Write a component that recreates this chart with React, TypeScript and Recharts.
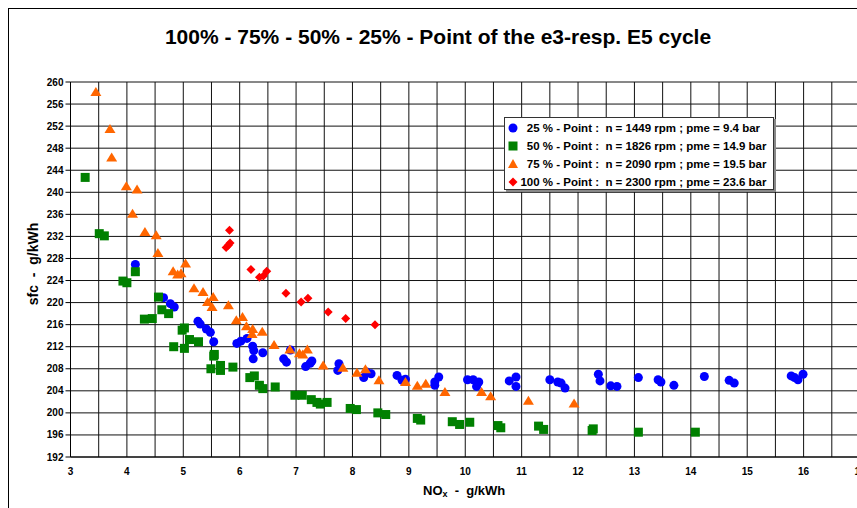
import React from "react";
import { ScatterChart, Scatter, XAxis, YAxis, CartesianGrid } from "recharts";

// NOx [g/kWh], sfc [g/kWh] per operating point
const point25: [number, number][] = [
  [4.15, 226.9], [4.65, 220.9], [4.77, 219.8], [4.84, 219.2], [5.26, 216.6], [5.3, 216.1],
  [5.41, 215.2], [5.48, 214.6], [5.54, 212.9], [5.95, 212.6], [6.02, 213.0], [6.13, 213.5],
  [6.23, 212.1], [6.25, 211.3], [6.24, 209.8], [6.41, 210.9], [6.78, 209.8], [6.83, 209.2],
  [6.9, 211.4], [7.17, 208.4], [7.25, 209.0], [7.28, 209.4], [7.76, 208.9], [7.74, 207.7],
  [8.2, 206.4], [8.25, 207.4], [8.33, 207.1], [8.79, 206.8], [8.88, 205.9], [8.94, 206.1],
  [9.46, 205.6], [9.53, 206.5], [9.46, 205.0], [10.04, 206.0], [10.14, 206.0], [10.24, 205.6],
  [10.2, 204.8], [10.78, 205.8], [10.9, 206.5], [10.9, 204.8], [11.5, 206.0], [11.64, 205.6],
  [11.7, 205.4], [11.77, 204.5], [12.36, 207.0], [12.39, 205.8], [12.58, 204.9], [12.69, 204.8],
  [13.07, 206.4], [13.42, 206.0], [13.47, 205.6], [13.7, 205.0], [14.24, 206.6], [14.68, 205.9],
  [14.77, 205.4], [15.78, 206.7], [15.84, 206.4], [15.9, 206.0], [15.99, 207.0],
];

const point50: [number, number][] = [
  [3.26, 242.7], [3.51, 232.5], [3.6, 232.1], [3.93, 223.9], [4.0, 223.6], [4.15, 225.6],
  [4.56, 221.0], [4.62, 218.7], [4.74, 218.0], [4.31, 217.0], [4.45, 217.1], [5.02, 215.4],
  [4.98, 215.0], [4.83, 212.0], [5.02, 211.7], [5.11, 213.3], [5.27, 212.9], [5.55, 210.6],
  [5.54, 210.3], [5.49, 208.0], [5.66, 208.6], [5.66, 207.7], [5.88, 208.3], [6.18, 206.4],
  [6.26, 206.7], [6.35, 205.0], [6.41, 204.4], [6.63, 204.7], [6.98, 203.2], [7.11, 203.2],
  [7.27, 202.4], [7.37, 201.9], [7.43, 201.6], [7.55, 201.9], [7.96, 200.8], [8.07, 200.6],
  [8.45, 200.0], [8.59, 199.7], [9.15, 199.0], [9.21, 198.7], [9.77, 198.4], [9.9, 197.9],
  [10.08, 198.3], [10.58, 197.7], [10.63, 197.3], [11.3, 197.6], [11.39, 197.0], [12.25, 196.8],
  [12.27, 197.1], [13.07, 196.5], [14.08, 196.5],
];

const point75: [number, number][] = [
  [3.45, 258.2], [3.7, 251.5], [3.73, 246.3], [3.99, 241.1], [4.18, 240.5], [4.1, 236.1],
  [4.32, 232.8], [4.52, 232.2], [4.55, 229.0], [4.82, 225.7], [4.9, 225.1], [4.96, 225.3],
  [5.04, 227.1], [5.19, 222.6], [5.35, 221.9], [5.53, 221.0], [5.43, 220.1], [5.51, 219.2],
  [5.8, 219.5], [5.94, 216.8], [6.05, 217.4], [6.12, 215.7], [6.23, 215.2], [6.22, 214.3],
  [6.4, 214.7], [6.61, 212.3], [6.89, 211.5], [7.06, 210.8], [7.12, 210.6], [7.2, 211.5],
  [7.48, 208.6], [7.83, 208.2], [8.08, 207.3], [8.23, 207.9], [8.47, 205.9], [8.94, 205.6],
  [9.15, 204.9], [9.3, 205.3], [9.64, 203.8], [10.29, 203.8], [10.45, 203.0], [11.12, 202.2],
  [11.93, 201.7],
];

const point100: [number, number][] = [
  [5.82, 233.1], [5.83, 230.8], [5.8, 230.4], [5.76, 230.0], [6.2, 226.0], [6.35, 224.6],
  [6.42, 224.8], [6.48, 225.7], [6.82, 221.7], [7.09, 220.1], [7.21, 220.8], [7.57, 218.3],
  [7.88, 217.1], [8.4, 216.0],
];

const xTicks = [3, 3.5, 4, 4.5, 5, 5.5, 6, 6.5, 7, 7.5, 8, 8.5, 9, 9.5, 10, 10.5, 11, 11.5,
  12, 12.5, 13, 13.5, 14, 14.5, 15, 15.5, 16, 16.5, 17];
const yTicks = [192, 196, 200, 204, 208, 212, 216, 220, 224, 228, 232, 236, 240, 244, 248,
  252, 256, 260];

const legendRows = [
  { load: "25 %", text: "n = 1449 rpm ; pme = 9.4 bar", marker: "circle" },
  { load: "50 %", text: "n = 1826 rpm ; pme = 14.9 bar", marker: "square" },
  { load: "75 %", text: "n = 2090 rpm ; pme = 19.5 bar", marker: "triangle" },
  { load: "100 %", text: "n = 2300 rpm ; pme = 23.6 bar", marker: "diamond" },
];

const FONT = "Arial, 'Liberation Sans', sans-serif";
const toPts = (arr: [number, number][]) => arr.map(([x, y]) => ({ x, y }));

const BLUE = "#0000ff";
const GREEN = "#008000";
const ORANGE = "#ff6600";
const RED = "#ff0000";

const Dot = (p: any) => <circle cx={p.cx} cy={p.cy} r={4.5} fill={BLUE} />;
const Sq = (p: any) => <rect x={p.cx - 4.5} y={p.cy - 4.5} width={9} height={9} fill={GREEN} />;
const Tri = (p: any) => (
  <polygon points={`${p.cx},${p.cy - 5} ${p.cx + 5.5},${p.cy + 4} ${p.cx - 5.5},${p.cy + 4}`} fill={ORANGE} />
);
const Dia = (p: any) => (
  <polygon points={`${p.cx},${p.cy - 4.5} ${p.cx + 4.5},${p.cy} ${p.cx},${p.cy + 4.5} ${p.cx - 4.5},${p.cy}`} fill={RED} />
);

function LegendMarker({ kind }: { kind: string }) {
  return (
    <svg width={12} height={12} style={{ display: "inline-block", verticalAlign: "middle" }}>
      {kind === "circle" && <circle cx={6} cy={6} r={4.5} fill={BLUE} />}
      {kind === "square" && <rect x={1.5} y={1.5} width={9} height={9} fill={GREEN} />}
      {kind === "triangle" && <polygon points="6,1 11,10 1,10" fill={ORANGE} />}
      {kind === "diamond" && <polygon points="6,1.5 10.5,6 6,10.5 1.5,6" fill={RED} />}
    </svg>
  );
}

export default function App() {
  return (
    <div
      style={{
        position: "fixed",
        left: 8,
        top: 8,
        width: 849,
        height: 500,
        overflow: "hidden",
        background: "#fff",
        fontFamily: FONT,
      }}
    >
      <div
        style={{
          position: "absolute",
          left: 0,
          top: 0,
          width: 1000,
          height: 1000,
          borderLeft: "1px solid #000",
          borderTop: "1px solid #000",
          pointerEvents: "none",
        }}
      />
      <div
        style={{
          position: "absolute",
          left: 0,
          width: 860,
          top: 17,
          textAlign: "center",
          fontSize: 21,
          fontWeight: "bold",
          whiteSpace: "nowrap",
        }}
      >
        100% - 75% - 50% - 25% - Point of the e3-resp. E5 cycle
      </div>

      <ScatterChart width={880} height={500} margin={{ top: 74, right: 28, left: 0, bottom: 0 }}>
        <CartesianGrid stroke="#111" strokeWidth={1} fill="#fff" />
        <XAxis
          type="number"
          dataKey="x"
          domain={[3, 17]}
          ticks={xTicks}
          interval={0}
          allowDataOverflow
          tickFormatter={(v: number) => (Number.isInteger(v) ? String(v) : "")}
          tickLine={false}
          tickSize={9}
          tickMargin={2}
          height={51}
          stroke="#000"
          tick={{ fill: "#000", fontSize: 10, fontWeight: "bold", fontFamily: FONT }}
        />
        <YAxis
          type="number"
          dataKey="y"
          domain={[192, 260]}
          ticks={yTicks}
          interval={0}
          allowDataOverflow
          width={62.5}
          tickSize={5}
          tickMargin={2}
          stroke="#000"
          tick={{ fill: "#000", fontSize: 10, fontWeight: "bold", fontFamily: FONT }}
        />
        <Scatter data={toPts(point25)} shape={Dot} isAnimationActive={false} />
        <Scatter data={toPts(point50)} shape={Sq} isAnimationActive={false} />
        <Scatter data={toPts(point75)} shape={Tri} isAnimationActive={false} />
        <Scatter data={toPts(point100)} shape={Dia} isAnimationActive={false} />
      </ScatterChart>

      <div
        style={{
          position: "absolute",
          left: 496,
          top: 109,
          width: 268,
          height: 70,
          background: "#fff",
          border: "1px solid #333",
          boxShadow: "2px 2px 0 #888",
          fontSize: 11.5,
          fontWeight: "bold",
          paddingTop: 1,
        }}
      >
        {legendRows.map((r) => (
          <div key={r.load} style={{ height: 18, display: "flex", alignItems: "center", whiteSpace: "pre" }}>
            <span style={{ width: 13, paddingLeft: 2 }}>
              <LegendMarker kind={r.marker} />
            </span>
            <span style={{ display: "inline-block", width: 33, textAlign: "right" }}>{r.load}</span>
            <span>{" - Point :  " + r.text}</span>
          </div>
        ))}
      </div>

      <div
        style={{
          position: "absolute",
          left: 25,
          top: 264 - 8,
          transform: "translate(-50%, -50%) rotate(-90deg)",
          fontSize: 14,
          fontWeight: "bold",
          whiteSpace: "pre",
        }}
      >
        {"sfc  -  g/kWh"}
      </div>
      <div
        style={{
          position: "absolute",
          left: 415,
          top: 475,
          fontSize: 13,
          fontWeight: "bold",
          whiteSpace: "pre",
        }}
      >
        NO<sub style={{ fontSize: 9, verticalAlign: "-2px" }}>x</sub>
        {"  -  g/kWh"}
      </div>
    </div>
  );
}
